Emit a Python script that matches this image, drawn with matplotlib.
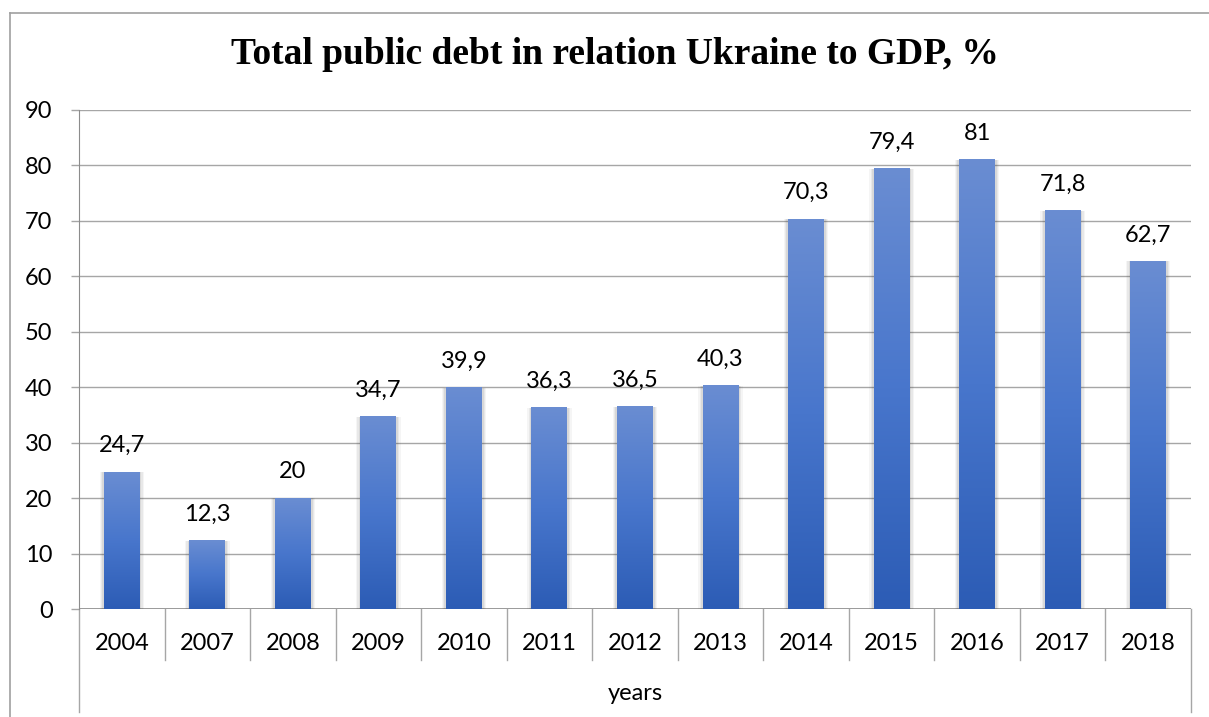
import numpy as np
import matplotlib
matplotlib.use('Agg')
import matplotlib.pyplot as plt
from matplotlib.patches import Rectangle
from matplotlib.lines import Line2D
import matplotlib.transforms as mtransforms
from matplotlib.colors import LinearSegmentedColormap

# data
years = ['2004', '2007', '2008', '2009', '2010', '2011', '2012',
         '2013', '2014', '2015', '2016', '2017', '2018']
debt = [24.7, 12.3, 20, 34.7, 39.9, 36.3, 36.5, 40.3, 70.3, 79.4, 81, 71.8, 62.7]
yticks = [0, 10, 20, 30, 40, 50, 60, 70, 80, 90]

title = 'Total public debt in relation Ukraine to GDP, %'
xlabel = 'years'

plt.rcParams['font.family'] = ['Lato', 'DejaVu Sans']
W, H = 1209, 717
fig = plt.figure(figsize=(W / 100, H / 100), dpi=100)

# axes placed in pixels like the excel chart
left, right, top, bottom = 79, 1191, 110, 609
ax = fig.add_axes([left / W, 1 - bottom / H, (right - left) / W, (bottom - top) / H])

x = np.arange(len(years))
fs = 17

grid_col = '#a6a6a6'
ax.set_yticks(yticks)
ax.set_yticklabels([str(t) for t in yticks], fontsize=fs)
ax.tick_params(axis='y', length=6, color=grid_col, pad=13, width=1)
ax.set_xticks([])
ax.grid(axis='y', color=grid_col, linewidth=1)
ax.set_axisbelow(True)
for s in ['top', 'right', 'bottom']:
    ax.spines[s].set_visible(False)
ax.spines['left'].set_color('#8c8c8c')
ax.axhline(0, color='#8c8c8c', linewidth=1.2, zorder=1)

# bars with vertical gradient and soft shadow on the sides
bw = 0.42
cmap = LinearSegmentedColormap.from_list('bar', ['#2c5cb5', '#4876cc', '#6a8dd2'])
grad = np.linspace(0, 1, 256).reshape(-1, 1)
for xi, v in zip(x, debt):
    for k, a in zip([0.05, 0.035, 0.02], [0.05, 0.07, 0.09]):
        ax.add_patch(Rectangle((xi - bw / 2 - k, 0), bw + 2 * k, v,
                               facecolor='#404040', edgecolor='none', alpha=a, zorder=2))
    ax.imshow(grad, cmap=cmap, origin='lower', aspect='auto',
              extent=(xi - bw / 2, xi + bw / 2, 0, v), zorder=3)
    ax.annotate(f'{v:g}'.replace('.', ','), (xi, v), xytext=(0, 19),
                textcoords='offset points', ha='center', va='center', fontsize=fs)
ax.set_xlim(-0.5, len(years) - 0.5)
ax.set_ylim(0, 90)

# category axis: separators, labels, outer box
trans = mtransforms.blended_transform_factory(ax.transData, ax.transAxes)
ph = bottom - top
short = -(660 - bottom) / ph
long_ = -(712 - bottom) / ph
for i in range(len(years) + 1):
    b = i - 0.5
    y0 = long_ if i in (0, len(years)) else short
    ax.add_line(Line2D([b, b], [0, y0], transform=trans, color=grid_col,
                       linewidth=1, clip_on=False))
for xi, lab in zip(x, years):
    ax.text(xi, -(643 - bottom) / ph, lab, transform=trans, ha='center',
            va='center', fontsize=fs)
ax.text(len(years) / 2 - 0.5, -(694 - bottom) / ph, xlabel, transform=trans,
        ha='center', va='center', fontsize=fs)

# chart frame (left and top edges visible)
fig.add_artist(Line2D([10 / W, 10 / W], [0, 1 - 13 / H], color='#a0a0a0', linewidth=1.2))
fig.add_artist(Line2D([10 / W, 1], [1 - 13 / H, 1 - 13 / H], color='#a0a0a0', linewidth=1.2))

fig.text(615 / W, 1 - 55 / H, title, ha='center', va='center', fontsize=27,
         fontweight='bold', family='Liberation Serif')

fig.savefig('out.png', dpi=100)
